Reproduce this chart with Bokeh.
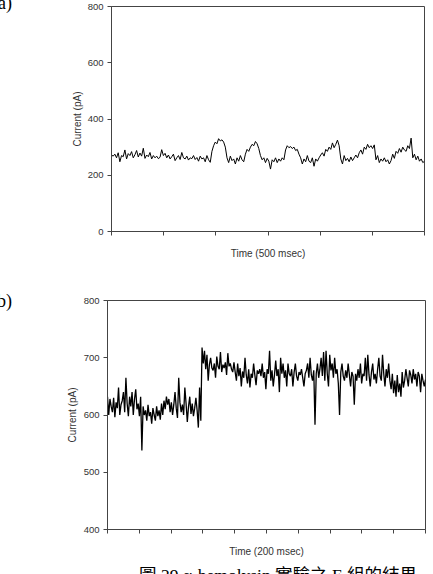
from bokeh.plotting import figure
from bokeh.models import FixedTicker, Div
from bokeh.layouts import column, row
from bokeh.embed import file_html
from bokeh.resources import INLINE
import numpy as np

# ---------------- data ----------------
a_ticks_x = [0, 1, 2, 3, 4, 5, 6]
a_ticks_y = [0, 200, 400, 600, 800]
a_current = [
    272, 268, 275, 262, 280, 248, 270, 266, 290, 258, 277, 270, 284, 262, 273, 288, 265, 279, 268, 296,
    260, 272, 266, 281, 258, 270, 262, 268, 259, 264, 291, 270, 278, 262, 272, 258, 266, 275, 252, 262,
    270, 256, 281, 262, 258, 268, 254, 262, 259, 270, 256, 263, 250, 268, 258, 262, 248, 270, 255, 246,
    285, 305, 318, 312, 330, 322, 326, 318, 300,
    262, 245, 268, 252, 258, 240, 262, 250, 270, 255, 248,
    275, 292, 285, 300, 310, 305, 320, 312, 295,
    270, 255, 262, 245, 260, 250, 222, 255, 248, 262, 245, 258, 250, 262, 255,
    290, 305, 298, 302, 295, 300, 288, 292, 275,
    262, 240, 258, 248, 270, 250, 245, 262, 232, 258, 250, 262,
    272, 280, 268, 292, 285, 300, 292, 315, 298, 310, 325, 305,
    258, 240, 270, 252, 260, 248, 265, 252, 262,
    272, 262, 280, 290, 275, 300, 292, 310, 298, 305, 295, 308,
    255, 270, 245, 258, 250, 262, 248, 255, 240, 252,
    275, 260, 285, 278, 295, 282, 300, 290, 285, 305, 295, 332,
    262, 275, 255, 268, 250, 258, 245, 250,
]
a_span = 6.0  # time units (500 msec each)

b_ticks_x = [0, 1, 2, 3, 4, 5, 6, 7, 8, 9, 10]
b_ticks_y = [400, 500, 600, 700, 800]
b_current = [
    632, 600, 628, 615, 605, 630, 596, 622, 612, 648, 600, 618, 625, 640, 605, 665, 620, 598, 632, 615,
    640, 600, 628, 645, 610, 620, 598, 632, 538, 615, 600, 608, 590, 618, 598, 605, 585, 612, 600, 590,
    615, 598, 608, 592, 620, 600, 625, 610, 632, 618, 628, 605, 622, 600, 618, 640, 612, 595, 665, 622,
    605, 618, 600, 648, 620, 588, 615, 632, 602, 620, 598, 612, 630, 608, 578, 648, 590,
    718, 690, 712, 680, 705, 660, 688, 700, 682, 678, 690, 665, 702, 685, 680, 710, 675, 688, 682, 692,
    670, 708, 685, 690, 680, 675, 692,
    675, 660, 690, 668, 682, 650, 676, 665, 700, 670,
    655, 680, 648, 672, 665, 690, 670, 652, 678, 672,
    680, 668, 690, 665, 675, 645, 680, 672, 712, 660,
    678, 650, 670, 695, 668, 680, 640, 700, 672, 690,
    665, 678, 650, 690, 672, 668, 680, 650, 675, 690,
    668, 660, 675, 670, 680, 665, 650, 672, 678, 690,
    665, 700, 670, 660, 678, 583, 672, 690, 665, 680,
    700, 668, 710, 660, 712, 672, 650, 705, 678, 690,
    665, 700, 672, 680, 655, 600, 675, 690, 668, 660,
    678, 665, 690, 670, 650, 675, 668, 618, 672, 660,
    680, 665, 690, 655, 672, 668, 700, 660, 705, 670,
    650, 675, 690, 662, 672, 655, 680, 700, 668, 660,
    705, 672, 650, 680, 665, 690, 660, 645, 672, 638,
    660, 632, 670, 640, 655, 632, 675, 648, 660, 680,
    665, 650, 678, 670, 655, 680, 662, 672, 650, 675,
    668, 640, 672, 660, 650, 662,
]
b_span = 10.0  # time units (200 msec each)

a_xlabel = "Time (500 msec)"
b_xlabel = "Time (200 msec)"
ylabel = "Current (pA)"
a_tag = "(a)"
b_tag = "(b)"
caption = "圖 29 α-hemolysin 實驗之 E 組的結果"

a_time = np.arange(len(a_current)) * (a_span / (len(a_current) - 1))
b_time = np.arange(len(b_current)) * (b_span / (len(b_current) - 1))

AX = "#444444"
TXT = "#333333"
SANS = "Liberation Sans"


def style(p, xt, yt):
    p.xgrid.visible = False
    p.ygrid.visible = False
    p.outline_line_color = AX
    p.outline_line_width = 1
    p.background_fill_color = "white"
    p.border_fill_color = "white"
    p.xaxis.ticker = FixedTicker(ticks=xt)
    p.yaxis.ticker = FixedTicker(ticks=yt)
    for ax in (p.xaxis[0], p.yaxis[0]):
        ax.axis_line_color = AX
        ax.major_tick_line_color = AX
        ax.major_tick_in = 0
        ax.major_tick_out = 4
        ax.minor_tick_line_color = None
        ax.axis_label_text_font = SANS
        ax.axis_label_text_font_style = "normal"
        ax.axis_label_text_font_size = "10px"
        ax.axis_label_text_color = TXT
        ax.major_label_text_font = SANS
        ax.major_label_text_font_size = "9.5px"
        ax.major_label_text_color = TXT
    # the x axes carry ticks but no tick labels
    p.xaxis.major_label_text_font_size = "0px"
    p.xaxis.major_label_text_color = None
    p.xaxis.major_label_standoff = 0
    p.yaxis.major_label_standoff = 4


def tag_div(text, width, height, top):
    html = ('<div style="position:relative;width:%dpx;height:%dpx;overflow:hidden;">'
            '<span style="position:absolute;right:0px;top:%dpx;white-space:nowrap;'
            'font-family:\'Liberation Serif\';font-size:18px;line-height:18px;color:black;">%s</span></div>'
            % (width, height, top, text))
    return Div(text=html, width=width, height=height, styles={"overflow": "hidden", "margin": "0", "padding": "0"})


# ---------------- figure (a) ----------------
pa = figure(width=421, height=287, x_range=(0, a_span), y_range=(0, 800),
            output_backend="svg", toolbar_location=None,
            min_border_left=99, min_border_right=9, min_border_top=6, min_border_bottom=56,
            x_axis_label=a_xlabel, y_axis_label=ylabel)
style(pa, a_ticks_x, a_ticks_y)
pa.xaxis.axis_label_standoff = 12
pa.yaxis.axis_label_standoff = 2
pa.line(a_time, a_current, line_color="black", line_width=1)

# ---------------- figure (b) ----------------
pb = figure(width=421, height=276, x_range=(0, b_span), y_range=(400, 800),
            output_backend="svg", toolbar_location=None,
            min_border_left=95, min_border_right=8, min_border_top=13, min_border_bottom=34,
            x_axis_label=b_xlabel, y_axis_label=ylabel)
style(pb, b_ticks_x, b_ticks_y)
pb.xaxis.axis_label_standoff = 12
pb.yaxis.axis_label_standoff = 3
pb.line(b_time, b_current, line_color="black", line_width=1.3)

div_a = tag_div(a_tag, 12, 287, -6)
div_b = tag_div(b_tag, 12, 276, 5)

cap_html = ('<div style="position:relative;width:433px;height:11px;overflow:hidden;">'
            '<span style="position:absolute;left:278px;transform:translateX(-50%%);top:3px;white-space:nowrap;'
            'font-family:\'Liberation Serif\',\'Noto Sans CJK TC\';font-size:17.5px;line-height:17.5px;color:black;">%s</span></div>'
            % caption)
div_cap = Div(text=cap_html, width=433, height=11, styles={"overflow": "hidden", "margin": "0", "padding": "0"})

layout = column(row(div_a, pa, spacing=0), row(div_b, pb, spacing=0), div_cap, spacing=0)
open("out.html", "w").write(file_html(layout, INLINE))
